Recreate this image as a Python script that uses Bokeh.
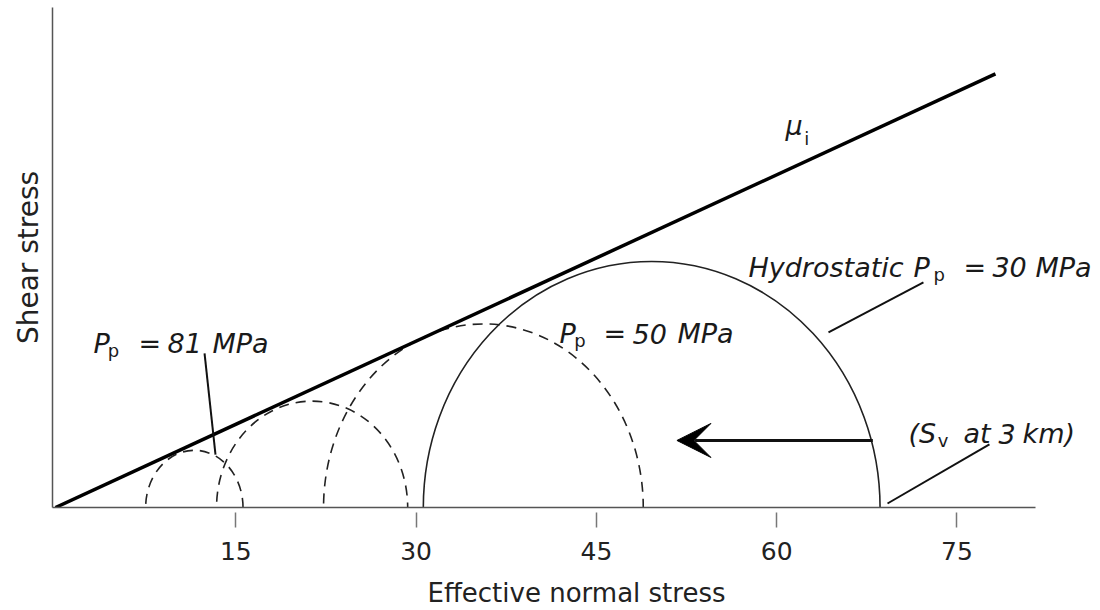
from bokeh.plotting import figure
from bokeh.models import Range1d, FixedTicker, Label, Arrow, VeeHead
from bokeh.embed import file_html
from bokeh.resources import INLINE

# ---------------- data ----------------
tick_values = [15, 30, 45, 60, 75]

# friction envelope mu_i (end points)
friction_x = [0.0, 78.2]
friction_y = [0.0, 32.6]

# Mohr circles: least and greatest effective stress, peak shear stress
circle_sigma3 = [7.5, 13.4, 22.3, 30.6]
circle_sigma1 = [15.6, 29.3, 48.9, 68.6]
circle_tau_max = [4.3, 8.0, 13.8, 18.5]
circle_dashed = [True, True, True, False]

# arrow showing the circle shift (effective normal stress)
arrow_sigma_from = 68.0
arrow_sigma_to = 51.7
arrow_tau = 5.04

# label leader lines (x0, y0, x1, y1)
leader_x0 = [12.40, 64.31, 69.22]
leader_y0 = [11.58, 13.16, 0.30]
leader_x1 = [13.31, 72.21, 77.70]
leader_y1 = [3.98, 16.92, 4.74]

X_AXIS_END = 81.53
Y_AXIS_END = 37.59

FONT = "DejaVu Sans"

p = figure(width=1100, height=610, output_backend="svg", toolbar_location=None,
           x_range=Range1d(-0.25, 86.94), y_range=Range1d(0, Y_AXIS_END),
           min_border_left=52, min_border_right=0, min_border_top=7,
           min_border_bottom=103)
p.title.visible = False
p.outline_line_color = None
p.grid.visible = False
p.background_fill_color = "white"
p.border_fill_color = "white"

# x axis
xa = p.xaxis[0]
xa.bounds = (-0.25, X_AXIS_END)
xa.ticker = FixedTicker(ticks=tick_values)
xa.minor_tick_line_color = None
xa.major_tick_in = -5
xa.major_tick_out = 20
xa.major_tick_line_color = "#777777"
xa.major_tick_line_width = 1.5
xa.axis_line_color = "#555555"
xa.axis_line_width = 1.5
xa.major_label_text_font = FONT
xa.major_label_text_font_size = "25px"
xa.major_label_text_color = "#222222"
xa.major_label_standoff = 14
xa.axis_label = "Effective normal stress"
xa.axis_label_text_font = FONT
xa.axis_label_text_font_size = "26px"
xa.axis_label_text_font_style = "normal"
xa.axis_label_text_color = "#222222"
xa.axis_label_standoff = 15

# y axis
ya = p.yaxis[0]
ya.ticker = FixedTicker(ticks=[])
ya.minor_tick_line_color = None
ya.major_tick_in = 0
ya.major_tick_out = 0
ya.axis_line_color = "#555555"
ya.axis_line_width = 1.5
ya.axis_label = "Shear stress"
ya.axis_label_text_font = FONT
ya.axis_label_text_font_size = "28px"
ya.axis_label_text_font_style = "normal"
ya.axis_label_text_color = "#222222"
ya.axis_label_standoff = 8

# Mohr circles
centers = [(a + b) / 2 for a, b in zip(circle_sigma3, circle_sigma1)]
widths = [(b - a) for a, b in zip(circle_sigma3, circle_sigma1)]
heights = [2 * t for t in circle_tau_max]
for c, w, h, d in zip(centers, widths, heights, circle_dashed):
    p.ellipse(x=[c], y=[0], width=[w], height=[h], fill_color=None,
              line_color="#222222", line_width=1.6,
              line_dash="10 7" if d else "solid")

# friction line
p.line(friction_x, friction_y, line_color="black", line_width=3.5)

# leader lines
p.segment(x0=leader_x0, y0=leader_y0, x1=leader_x1, y1=leader_y1,
          line_color="#111111", line_width=2)

# arrow
p.add_layout(Arrow(end=VeeHead(size=34, fill_color="black", line_color="black", line_width=1),
                   x_start=arrow_sigma_from, y_start=arrow_tau,
                   x_end=arrow_sigma_to, y_end=arrow_tau,
                   line_color="#111111", line_width=3))


def lab(x, y, text, size="27px", style="italic"):
    p.add_layout(Label(x=x, y=y, text=text, text_font=FONT, text_font_size=size,
                       text_font_style=style, text_color="#1a1a1a",
                       text_align="left", text_baseline="alphabetic"))

SUB = "18px"
# Pp = 81 MPa
lab(3.16, 12.33, "P")
lab(4.35, 11.80, "p", SUB, "normal")
lab(6.91, 12.33, "=")
lab(9.32, 12.33, "81")
lab(13.06, 12.33, "MPa")
# Pp = 50 MPa
lab(41.93, 13.08, "P")
lab(43.15, 12.56, "p", SUB, "normal")
lab(45.59, 13.08, "=")
lab(48.0, 13.08, "50")
lab(51.75, 13.08, "MPa")
# Hydrostatic Pp = 30 MPa
lab(57.65, 18.05, "Hydrostatic")
lab(71.38, 18.05, "P")
lab(73.05, 17.52, "p", SUB, "normal")
lab(75.54, 18.05, "=")
lab(77.95, 18.05, "30")
lab(81.53, 18.05, "MPa")
# (Sv at 3 km)
lab(70.97, 5.56, "(S")
lab(73.40, 5.04, "v", SUB, "normal")
lab(75.54, 5.56, "at")
lab(78.45, 5.56, "3")
lab(80.45, 5.56, "km)")
# mu_i
lab(60.73, 28.70, "μ")
lab(62.30, 27.74, "i", SUB, "normal")

open("out.html", "w").write(file_html(p, INLINE))
